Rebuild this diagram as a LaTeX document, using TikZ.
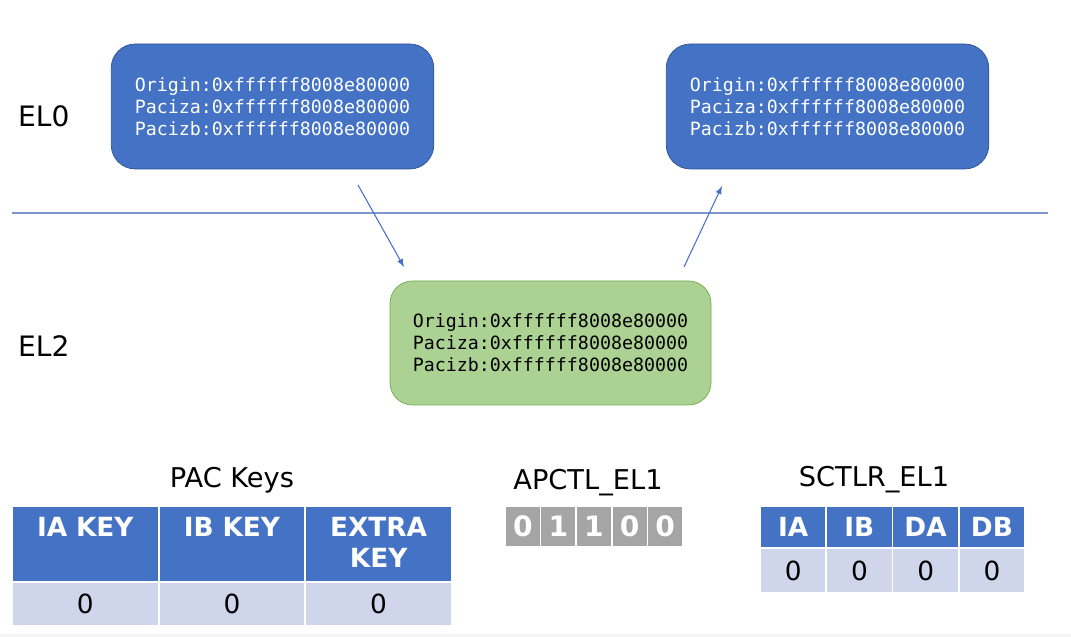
\documentclass[tikz,border=0pt]{standalone}
\usepackage{fontspec}
\setmainfont{DejaVu Sans}
\setmonofont{DejaVu Sans Mono}
\usepackage{tikz}
\usepackage{xcolor}
\usetikzlibrary{arrows,calc,positioning,shapes}
\definecolor{elblue}{HTML}{4472C4}
\definecolor{elblueline}{HTML}{2F528F}
\definecolor{elgreen}{HTML}{ABD193}
\definecolor{elgreenline}{HTML}{70AD47}
\definecolor{cellpale}{HTML}{CFD5EA}
\definecolor{bitgray}{HTML}{A5A5A5}
\definecolor{sepline}{HTML}{7F96CC}
\tikzset{%
	userbox/.style  = {draw=elblueline, fill=elblue, rounded corners=0.48cm, minimum width=6.45cm, minimum height=2.5cm, text=white, align=left, font=\ttfamily\fontsize{10.4}{12.5}\selectfont},
	hypbox/.style   = {draw=elgreenline, fill=elgreen, rounded corners=0.45cm, minimum width=6.42cm, minimum height=2.48cm, text=black, align=left, font=\ttfamily\fontsize{10.4}{12.5}\selectfont},
	level/.style    = {anchor=west, font=\fontsize{16}{19}\selectfont},
	title/.style    = {font=\fontsize{15.5}{18}\selectfont},
	hdrcell/.style  = {draw=white, line width=1pt, fill=elblue, inner sep=0pt},
	valcell/.style  = {draw=white, line width=1pt, fill=cellpale, inner sep=0pt, font=\fontsize{15}{18}\selectfont},
	bitcell/.style  = {draw=white, line width=1pt, fill=bitgray, inner sep=0pt, text=white, font=\bfseries\fontsize{16}{19}\selectfont},
	hdrtext/.style  = {text=white, inner sep=0.1cm, align=center, font=\bfseries\fontsize{15}{17.6}\selectfont},
	flow/.style     = {draw=elblue, line width=0.6pt, -latex},
}

\begin{document}
\begin{tikzpicture}
	\useasboundingbox (0,0) rectangle (21.42,12.74);
	\fill[gray!7] (0,0) rectangle (21.42,0.05);  % page edge
	
	% levels
	\node[level] (el0) at (0.24,10.42) {EL0};
	\node[level] (el2) at (0.24,5.82) {EL2};
	\draw[sepline, line width=0.6pt] (0.24,8.48) -- (20.96,8.48);
	
	% pointers
	\node[userbox] (before) at (5.45,10.61) {Origin:0xffffff8008e80000\\Paciza:0xffffff8008e80000\\Pacizb:0xffffff8008e80000};
	\node[userbox] (after) at (16.55,10.61) {Origin:0xffffff8008e80000\\Paciza:0xffffff8008e80000\\Pacizb:0xffffff8008e80000};
	\node[hypbox] (hyp) at (11.01,5.88) {Origin:0xffffff8008e80000\\Paciza:0xffffff8008e80000\\Pacizb:0xffffff8008e80000};
	
	\coordinate (downfrom) at (7.16,9.04);
	\coordinate (downto) at (8.08,7.40);
	\coordinate (upfrom) at (13.68,7.40);
	\coordinate (upto) at (14.44,9.02);
	\draw[flow] (downfrom) -- (downto);
	\draw[flow] (upfrom) -- (upto);
	
	% PAC keys
	\node[title] (pactitle) at (4.64,3.14) {PAC Keys};
	\foreach \name/\txt [count=\i] in {ia/IA KEY,ib/IB KEY,ex/EXTRA KEY} {
		\node[hdrcell, minimum width=2.933cm, minimum height=1.52cm] (pac\name) at ({0.24+2.933*(\i-0.5)},1.86) {};
		\node[hdrtext, anchor=north, text width=2.6cm] (pac\name txt) at ($(pac\name.north)+(0,-0.14)$) {\txt};
		\node[valcell, minimum width=2.933cm, minimum height=0.88cm] (pac\name val) at ({0.24+2.933*(\i-0.5)},0.66) {0};
	}
	
	% APCTL_EL1
	\node[title] (apctitle) at (11.76,3.08) {APCTL\_EL1};
	\foreach \bit [count=\i] in {0,1,1,0,0} {
		\node[bitcell, minimum width=0.712cm, minimum height=0.82cm] (bit\i) at ({10.1+0.712*(\i-0.5)},2.21) {\bit};
	}
	
	% SCTLR_EL1
	\node[title] (sctitle) at (17.48,3.14) {SCTLR\_EL1};
	\foreach \flag [count=\i] in {IA,IB,DA,DB} {
		\node[hdrcell, hdrtext, minimum width=1.325cm, minimum height=0.84cm] (sc\flag) at ({15.2+1.325*(\i-0.5)},2.2) {\flag};
		\node[valcell, minimum width=1.325cm, minimum height=0.9cm] (sc\flag val) at ({15.2+1.325*(\i-0.5)},1.33) {0};
	}
\end{tikzpicture}
\end{document}
